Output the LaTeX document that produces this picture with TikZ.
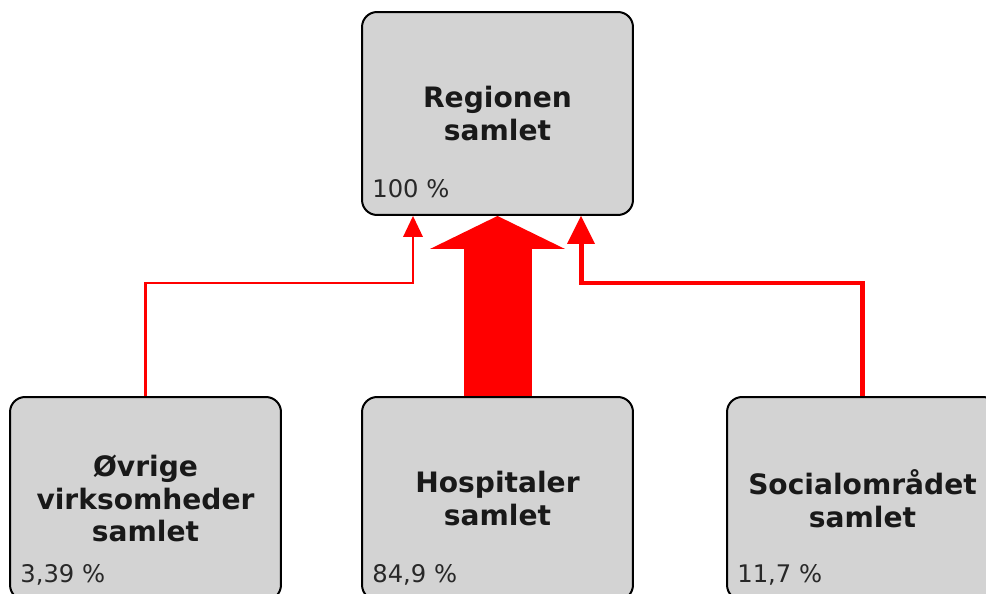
\documentclass[tikz,border=0pt]{standalone}
\usepackage{fontspec}
\setmainfont{DejaVu Sans}
\usetikzlibrary{arrows.meta}
\definecolor{boxgray}{RGB}{211,211,211}
\definecolor{pctgray}{RGB}{40,40,40}

\begin{document}
\begin{tikzpicture}[x=0.02cm,y=-0.02cm,
  box/.style={draw=black,line width=0.04cm,fill=boxgray,rounded corners=0.3cm,
    minimum width=5.42cm,minimum height=4.06cm,align=center,inner sep=0pt,
    font=\fontsize{16}{18.7}\selectfont\bfseries,text=black!90},
  pct/.style={anchor=base west,inner sep=0pt,font=\fontsize{13.8}{16}\selectfont,text=pctgray},
  thinlink/.style={red,line width=0.05cm,-{Triangle[width=0.4cm,length=0.42cm,line width=0pt]}},
  medlink/.style={red,line width=0.1cm,-{Triangle[width=0.56cm,length=0.56cm,line width=0pt]}},
  biglink/.style={red,line width=1.36cm,-{Triangle[width=2.7cm,length=0.66cm,line width=0pt]}}]
\clip (0,0) rectangle (986,594);
\fill[white] (0,0) rectangle (986,594);
% boxes
\node[box] (region) at (497.5,113.5) {Regionen\\samlet};
\node[box] (ovr) at (145.5,498.5) {Øvrige\\virksomheder\\samlet};
\node[box] (hosp) at (497.5,498.5) {Hospitaler\\samlet};
\node[box] (soc) at (862.5,498.5) {Socialområdet\\samlet};
% shares
\node[pct] (regionpct) at ([xshift=0.22cm,yshift=0.36cm]region.south west) {100 \%};
\node[pct] (ovrpct) at ([xshift=0.22cm,yshift=0.36cm]ovr.south west) {3,39 \%};
\node[pct] (hosppct) at ([xshift=0.22cm,yshift=0.36cm]hosp.south west) {84,9 \%};
\node[pct] (socpct) at ([xshift=0.22cm,yshift=0.36cm]soc.south west) {11,7 \%};
% links
\coordinate (lbend) at (413,283);
\coordinate (rbend) at (581,283);
\draw[thinlink] (ovr.north) |- (lbend) -- (lbend |- region.south);
\draw[medlink] (soc.north) |- (rbend) -- (rbend |- region.south);
\draw[red,line width=1.36cm] (hosp.north) -- ([yshift=-0.6cm]region.south);
\draw[biglink] (hosp.north) -- (region.south);
\end{tikzpicture}
\end{document}
